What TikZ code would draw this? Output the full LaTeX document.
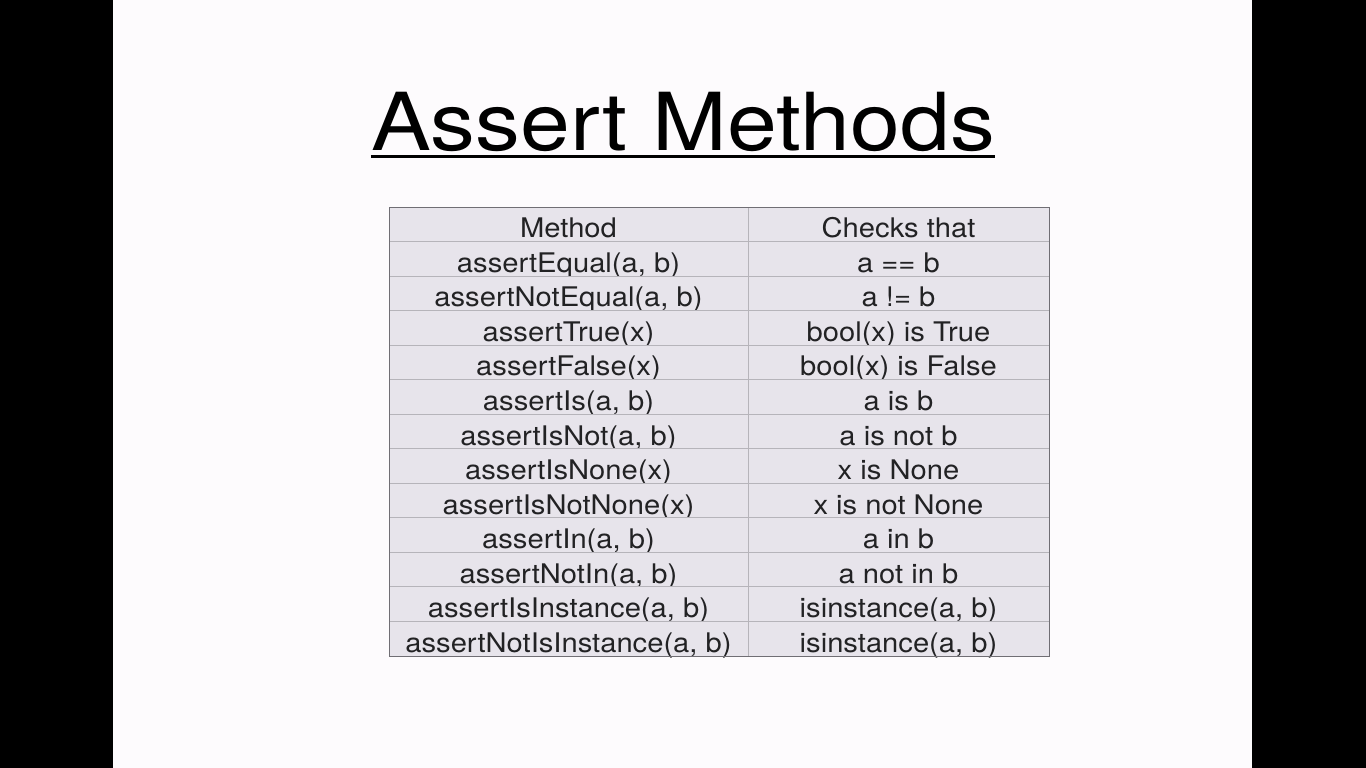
\documentclass[tikz,border=0pt]{standalone}
\usepackage{fontspec}
\usepackage{tikz}
\usetikzlibrary{positioning,fit}
\newfontfamily\titlefont[FakeStretch=1.12]{TeX Gyre Heros}
\newfontfamily\cellfont[FakeStretch=1.08]{TeX Gyre Heros}
\definecolor{slidebg}{RGB}{253,251,253}
\definecolor{cellfill}{RGB}{231,228,235}
\definecolor{gridgray}{RGB}{182,180,186}
\definecolor{framegray}{RGB}{112,110,116}
\definecolor{inkgray}{RGB}{34,34,36}
\tikzset{
  cell/.style = {draw=gridgray, fill=cellfill, line width=0.9pt, minimum height=34.54pt,
                 inner sep=0pt, outer sep=0pt, text height=27pt, text depth=0pt,
                 text=inkgray, font=\cellfont\fontsize{27}{28}\selectfont},
  methodcell/.style = {cell, minimum width=359pt},
  checkcell/.style  = {cell, minimum width=301pt},
  heading/.style = {inner sep=0pt, anchor=base, text=black, font=\titlefont\fontsize{80}{80}\selectfont},
}
\begin{document}
\begin{tikzpicture}[x=1pt, y=-1pt, node distance=0pt]
  % slide and side bars
  \fill[black] (0,0) rectangle (1366,768);
  \fill[slidebg] (113,0) rectangle (1252,768);
  \useasboundingbox (0,0) rectangle (1366,768);
  % title
  \node[heading] (title) at (683,150) {Assert Methods};
  \draw[line width=3pt] ([yshift=-6pt]title.base west) -- ([yshift=-6pt]title.base east);
  % table
  \node[methodcell] (m0) at (568.5,224.27) {Method};
  \node[checkcell, right=of m0] (c0) {Checks that};
  \node[methodcell, below=of m0] (m1) {assertEqual(a, b)};
  \node[checkcell, right=of m1] (c1) {a == b};
  \node[methodcell, below=of m1] (m2) {assertNotEqual(a, b)};
  \node[checkcell, right=of m2] (c2) {a != b};
  \node[methodcell, below=of m2] (m3) {assertTrue(x)};
  \node[checkcell, right=of m3] (c3) {bool(x) is True};
  \node[methodcell, below=of m3] (m4) {assertFalse(x)};
  \node[checkcell, right=of m4] (c4) {bool(x) is False};
  \node[methodcell, below=of m4] (m5) {assertIs(a, b)};
  \node[checkcell, right=of m5] (c5) {a is b};
  \node[methodcell, below=of m5] (m6) {assertIsNot(a, b)};
  \node[checkcell, right=of m6] (c6) {a is not b};
  \node[methodcell, below=of m6] (m7) {assertIsNone(x)};
  \node[checkcell, right=of m7] (c7) {x is None};
  \node[methodcell, below=of m7] (m8) {assertIsNotNone(x)};
  \node[checkcell, right=of m8] (c8) {x is not None};
  \node[methodcell, below=of m8] (m9) {assertIn(a, b)};
  \node[checkcell, right=of m9] (c9) {a in b};
  \node[methodcell, below=of m9] (m10) {assertNotIn(a, b)};
  \node[checkcell, right=of m10] (c10) {a not in b};
  \node[methodcell, below=of m10] (m11) {assertIsInstance(a, b)};
  \node[checkcell, right=of m11] (c11) {isinstance(a, b)};
  \node[methodcell, below=of m11] (m12) {assertNotIsInstance(a, b)};
  \node[checkcell, right=of m12] (c12) {isinstance(a, b)};
  \node[draw=framegray, line width=1pt, inner sep=0pt, fit=(m0)(c12)] (frame) {};
\end{tikzpicture}
\end{document}
